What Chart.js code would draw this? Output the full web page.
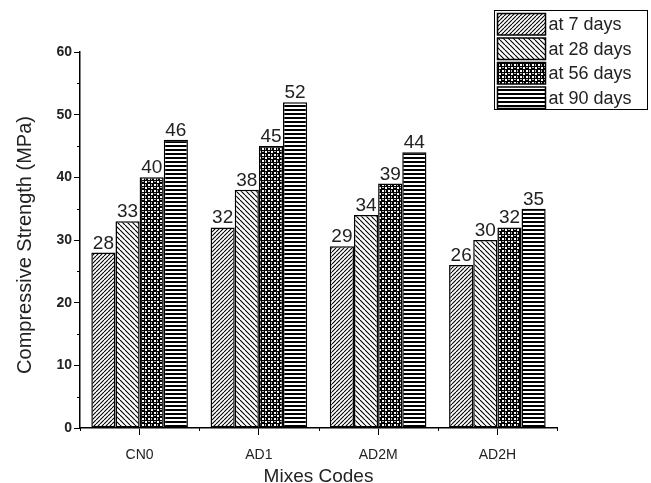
<!DOCTYPE html>
<html>
<head>
<meta charset="utf-8">
<script src="https://cdn.jsdelivr.net/npm/chart.js@4/dist/chart.umd.min.js"></script>
<style>
  html, body { margin: 0; padding: 0; background: #fff; }
  #wrap { width: 651px; height: 483px; position: relative; }
</style>
</head>
<body>
<div id="wrap"><canvas id="c" width="651" height="483"></canvas></div>
<script>
// Mix codes and compressive strength (MPa) at each curing age
const mixes = ['CN0', 'AD1', 'AD2M', 'AD2H'];
const ageLabels = ['at 7 days', 'at 28 days', 'at 56 days', 'at 90 days'];
const day7 = [28, 32, 29, 26];
const day28 = [33, 38, 34, 30];
const day56 = [40, 45, 39, 32];
const day90 = [46, 52, 44, 35];
const yTicks = [0, 10, 20, 30, 40, 50, 60];

const FONT = '"Liberation Sans", Arial, sans-serif';
const INK = '#222';

// ---- hatch fills ----
function tile(w, h, draw) {
  const c = document.createElement('canvas');
  c.width = w; c.height = h;
  const g = c.getContext('2d');
  g.fillStyle = '#fff';
  g.fillRect(0, 0, w, h);
  draw(g, w, h);
  return g.createPattern(c, 'repeat');
}
const ctxMain = document.getElementById('c').getContext('2d');
function diagPattern(forward, n) {
  return tile(n, n, (g, w, h) => {
    g.strokeStyle = '#000';
    g.lineWidth = 1.1;
    g.beginPath();
    for (let k = -1; k <= 1; k++) {
      if (forward) { g.moveTo(k * w, h); g.lineTo(k * w + w, 0); }
      else { g.moveTo(k * w, 0); g.lineTo(k * w + w, h); }
    }
    g.stroke();
  });
}
const pat7 = diagPattern(true, 4);
const pat28 = diagPattern(false, 5);
const pat56 = tile(6, 6, (g) => {
  g.fillStyle = '#000';
  g.fillRect(0, 0, 6, 6);
  g.fillStyle = '#fff';
  g.fillRect(1, 1, 2, 2);
  g.fillRect(4, 4, 2, 2);
  g.fillStyle = '#bbb';
  g.fillRect(4, 1, 2, 1);
  g.fillRect(1, 4, 1, 2);
});
const pat90 = tile(4, 4, (g) => {
  g.fillStyle = '#000';
  g.fillRect(0, 1, 4, 2);
});
const fills = [pat7, pat28, pat56, pat90];

// ---- chart area geometry ----
const AREA = { left: 80, right: 557, top: 52, bottom: 428 };

const decorations = {
  id: 'decorations',
  afterDraw(chart) {
    const g = chart.ctx;
    const ys = chart.scales.y, xs = chart.scales.x;
    g.save();
    g.strokeStyle = '#000';
    g.lineWidth = 1;
    // minor ticks on y
    g.beginPath();
    for (let v = 5; v < 60; v += 10) {
      const py = Math.round(ys.getPixelForValue(v)) + 0.5;
      g.moveTo(AREA.left - 3, py); g.lineTo(AREA.left, py);
    }
    // minor ticks on x at category boundaries
    const step = (xs.right - xs.left) / mixes.length;
    for (let i = 0; i <= mixes.length; i++) {
      const px = Math.round(xs.left + i * step) + 0.5;
      g.moveTo(px, AREA.bottom); g.lineTo(px, AREA.bottom + 3);
    }
    g.stroke();

    // value labels above each bar
    g.fillStyle = INK;
    g.font = '19px ' + FONT;
    g.textAlign = 'center';
    g.textBaseline = 'alphabetic';
    chart.data.datasets.forEach((ds, di) => {
      chart.getDatasetMeta(di).data.forEach((bar, i) => {
        g.fillText(String(ds.data[i]), bar.x, bar.y - 4);
      });
    });

    // axis titles
    g.font = '19px ' + FONT;
    g.fillText('Mixes Codes', (AREA.left + AREA.right) / 2, 482);
    g.save();
    g.font = '20px ' + FONT;
    g.translate(31, (AREA.top + AREA.bottom) / 2 + 5);
    g.rotate(-Math.PI / 2);
    g.fillText('Compressive Strength (MPa)', 0, 0);
    g.restore();

    // legend box
    const lx = 494.5, ly = 10.5, lw = 153, lh = 99;
    g.fillStyle = '#fff';
    g.fillRect(lx, ly, lw, lh);
    g.strokeStyle = '#000';
    g.lineWidth = 1;
    g.strokeRect(lx, ly, lw, lh);
    g.font = '18px ' + FONT;
    g.textAlign = 'left';
    g.textBaseline = 'middle';
    const rowH = 24.5;
    chart.data.datasets.forEach((ds, di) => {
      const ry = ly + 3 + di * rowH;
      g.fillStyle = ds.backgroundColor;
      g.fillRect(lx + 3, ry, 48, rowH - 3);
      g.lineWidth = 1.5;
      g.strokeRect(lx + 3, ry, 48, rowH - 3);
      g.fillStyle = INK;
      g.fillText(ds.label, lx + 54, ry + (rowH - 3) / 2 + 1);
    });
    g.restore();
  }
};

const series = [day7, day28, day56, day90];
new Chart(ctxMain, {
  type: 'bar',
  data: {
    labels: mixes,
    datasets: series.map((vals, i) => ({
      label: ageLabels[i],
      data: vals,
      backgroundColor: fills[i],
      borderColor: '#000',
      borderWidth: 1.5,
      borderSkipped: false,
      categoryPercentage: 0.81,
      barPercentage: 1.0
    }))
  },
  options: {
    responsive: false,
    animation: false,
    devicePixelRatio: 1,
    layout: { padding: { left: 0, top: AREA.top, right: 651 - AREA.right, bottom: 0 } },
    plugins: { legend: { display: false }, tooltip: { enabled: false } },
    scales: {
      x: {
        grid: { display: true, drawOnChartArea: false, offset: false, tickLength: 7, color: '#000', tickWidth: 1 },
        border: { display: true, color: '#000', width: 1.5 },
        ticks: { color: INK, font: { family: FONT, size: 14 }, padding: 12 },
        afterFit(s) { s.height = 483 - AREA.bottom; }
      },
      y: {
        min: 0, max: 60,
        afterBuildTicks(s) { s.ticks = yTicks.map(v => ({ value: v })); },
        grid: { display: true, drawOnChartArea: false, tickLength: 6, color: '#000', tickWidth: 1 },
        border: { display: true, color: '#000', width: 1.5 },
        ticks: { color: INK, font: { family: FONT, size: 14, weight: 'bold' }, padding: 2 },
        afterFit(s) { s.width = AREA.left; }
      }
    }
  },
  plugins: [decorations]
});
</script>
</body>
</html>
